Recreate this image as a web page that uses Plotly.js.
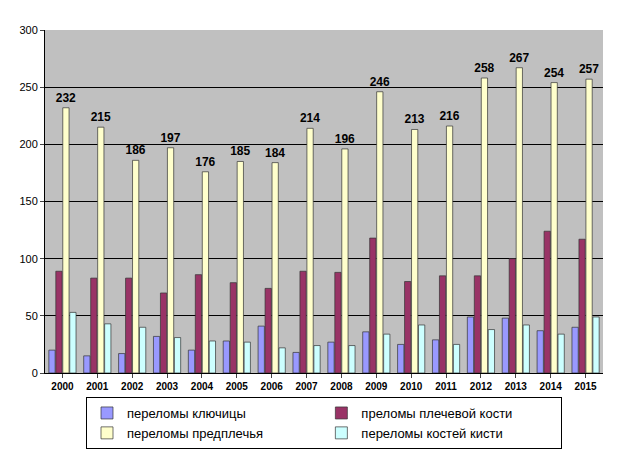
<html><head><script src="https://cdn.plot.ly/plotly-3.0.1.min.js"></script></head>
<body style="margin:0"><div id="chart" style="width:625px;height:461px"></div>
<script>
var years = ['2000','2001','2002','2003','2004','2005','2006','2007','2008','2009','2010','2011','2012','2013','2014','2015'];
var klyuch = [20,15,17,32,20,28,41,18,27,36,25,29,49,48,37,40];
var plech = [89,83,83,70,86,79,74,89,88,118,80,85,85,100,124,117];
var predpl = [232,215,186,197,176,185,184,214,196,246,213,216,258,267,254,257];
var kist = [53,43,40,31,28,27,22,24,24,34,42,25,38,42,34,49];

function tr(name, y, color, labels) {
  var t = {type:'bar', name:name, x:years, y:y,
    marker:{color:color, line:{color:'#333', width:0.7}}};
  if (labels) {
    t.text = y.map(String); t.textposition = 'outside'; t.constraintext = 'none';
    t.textfont = {family:'Arial', size:12, color:'#000', weight:'bold'}; t.cliponaxis = false;
  }
  return t;
}
var data = [
  tr('переломы ключицы', klyuch, '#9999FF'),
  tr('преломы плечевой кости', plech, '#993366'),
  tr('переломы предплечья', predpl, '#FFFFCC', true),
  tr('переломы костей кисти', kist, '#CCFFFF')
];
var layout = {
  width:625, height:461, margin:{l:45, r:22, t:30, b:72},
  paper_bgcolor:'#fff', plot_bgcolor:'#C0C0C0',
  font:{family:'Arial', size:11, color:'#000'},
  bargap:0.2, bargroupgap:0.1,
  xaxis:{type:'category', tickfont:{size:10, weight:'bold'}, showline:true, linecolor:'#000', ticks:'outside', ticklen:4},
  yaxis:{range:[0,300], dtick:50, gridcolor:'#000', gridwidth:1, showline:true, linecolor:'#000',
    ticks:'outside', ticklen:4, tickfont:{size:11}},
  legend:{orientation:'h', x:0.5, xanchor:'center', y:-0.07, yanchor:'top',
    bordercolor:'#000', borderwidth:1, entrywidthmode:'fraction', entrywidth:0.42, font:{size:13},
    traceorder:'normal'},
  showlegend:true
};
Plotly.newPlot('chart', data, layout, {displayModeBar:false});
</script></body></html>
